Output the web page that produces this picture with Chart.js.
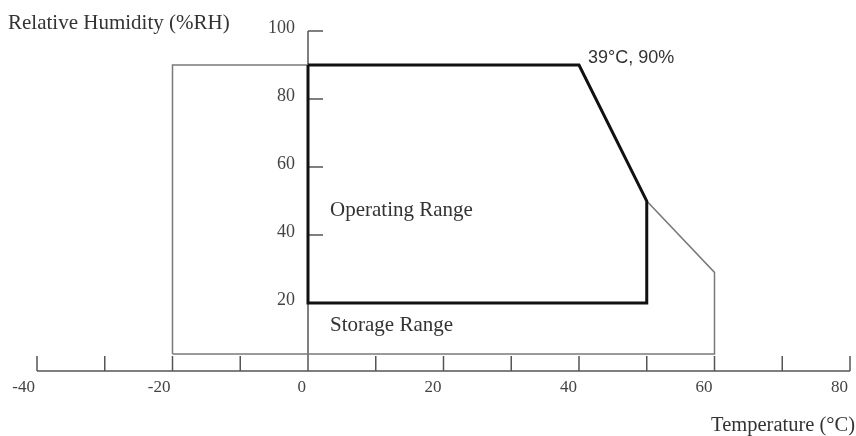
<!DOCTYPE html>
<html>
<head>
<meta charset="utf-8">
<script src="https://cdn.jsdelivr.net/npm/chart.js@4.4.1/dist/chart.umd.min.js"></script>
<style>
  html, body { margin: 0; padding: 0; background: #fff; }
  #wrap { width: 856px; height: 436px; }
</style>
</head>
<body>
<div id="wrap"><canvas id="grafico"></canvas></div>
<script>
// Ranges: temperature (°C) / relative humidity (%RH)
var operatingTemp = [0, 40, 50, 50, 0, 0];
var operatingRH = [90, 90, 50, 20, 20, 90];
var storageTemp = [-20, -20, 40, 50, 60, 60, -20];
var storageRH = [5, 90, 90, 50, 29, 5, 5];

// Axes
var xTicks = [-40, -30, -20, -10, 0, 10, 20, 30, 40, 50, 60, 70, 80];
var xLabels = [-40, -20, 0, 20, 40, 60, 80];
var yTicks = [20, 40, 60, 80, 100];

function toPoints(xs, ys) {
    return xs.map(function (v, i) { return { x: v, y: ys[i] }; });
}

var serif = '"Liberation Serif", "DejaVu Serif", serif';

// Axis lines, tick marks and labels
var axesPlugin = {
    id: 'axesDesenho',
    beforeDatasetsDraw: function (chart) {
        var ctx = chart.ctx;
        var sx = chart.scales.x, sy = chart.scales.y;
        var x0 = sx.getPixelForValue(0);
        var yBase = sy.getPixelForValue(0);
        ctx.save();
        ctx.strokeStyle = '#555';
        ctx.lineWidth = 1.5;
        ctx.beginPath();
        ctx.moveTo(sx.getPixelForValue(-40), yBase);
        ctx.lineTo(sx.getPixelForValue(80), yBase);
        ctx.moveTo(x0, yBase);
        ctx.lineTo(x0, sy.getPixelForValue(100));
        xTicks.forEach(function (t) {
            var px = sx.getPixelForValue(t);
            ctx.moveTo(px, yBase);
            ctx.lineTo(px, yBase - 15);
        });
        yTicks.forEach(function (t) {
            var py = sy.getPixelForValue(t);
            ctx.moveTo(x0, py);
            ctx.lineTo(x0 + 15, py);
        });
        ctx.stroke();

        ctx.fillStyle = '#444';
        ctx.font = '17px ' + serif;
        ctx.textAlign = 'right';
        ctx.textBaseline = 'middle';
        xLabels.forEach(function (t) {
            ctx.fillText(String(t), sx.getPixelForValue(t) - 2, yBase + 17);
        });
        ctx.font = '18px ' + serif;
        yTicks.forEach(function (t) {
            ctx.fillText(String(t), x0 - 13, sy.getPixelForValue(t) - 3);
        });
        ctx.restore();
    },
    afterDraw: function (chart) {
        var ctx = chart.ctx;
        ctx.save();
        ctx.fillStyle = '#333';
        ctx.textBaseline = 'alphabetic';
        ctx.textAlign = 'left';
        ctx.font = '21px ' + serif;
        ctx.fillText('Relative Humidity (%RH)', 8, 29);
        ctx.fillText('Operating Range', 330, 216);
        ctx.fillText('Storage Range', 330, 331);
        ctx.textAlign = 'right';
        ctx.font = '20.5px ' + serif;
        ctx.fillText('Temperature (\u00B0C)', 855, 431);
        ctx.textAlign = 'left';
        ctx.font = '18px "Liberation Sans", Arial, sans-serif';
        ctx.fillText('39\u00B0C, 90%', 588, 63);
        ctx.restore();
    }
};

var ctxGrafico = document.getElementById('grafico').getContext('2d');
new Chart(ctxGrafico, {
    type: 'scatter',
    data: {
        datasets: [
            {
                label: 'Operating Range',
                data: toPoints(operatingTemp, operatingRH),
                showLine: true,
                borderColor: '#111',
                borderWidth: 3,
                borderJoinStyle: 'miter',
                pointRadius: 0,
                tension: 0,
                clip: false
            },
            {
                label: 'Storage Range',
                data: toPoints(storageTemp, storageRH),
                showLine: true,
                borderColor: '#7a7a7a',
                borderWidth: 1.5,
                borderJoinStyle: 'miter',
                pointRadius: 0,
                tension: 0,
                clip: false
            }
        ]
    },
    plugins: [axesPlugin],
    options: {
        responsive: true,
        maintainAspectRatio: false,
        animation: false,
        events: [],
        layout: { padding: { left: 37, right: 6, top: 31, bottom: 65 } },
        plugins: {
            legend: { display: false },
            tooltip: { enabled: false }
        },
        scales: {
            x: { type: 'linear', min: -40, max: 80, display: false },
            y: { type: 'linear', min: 0, max: 100, display: false }
        }
    }
});
</script>
</body>
</html>
